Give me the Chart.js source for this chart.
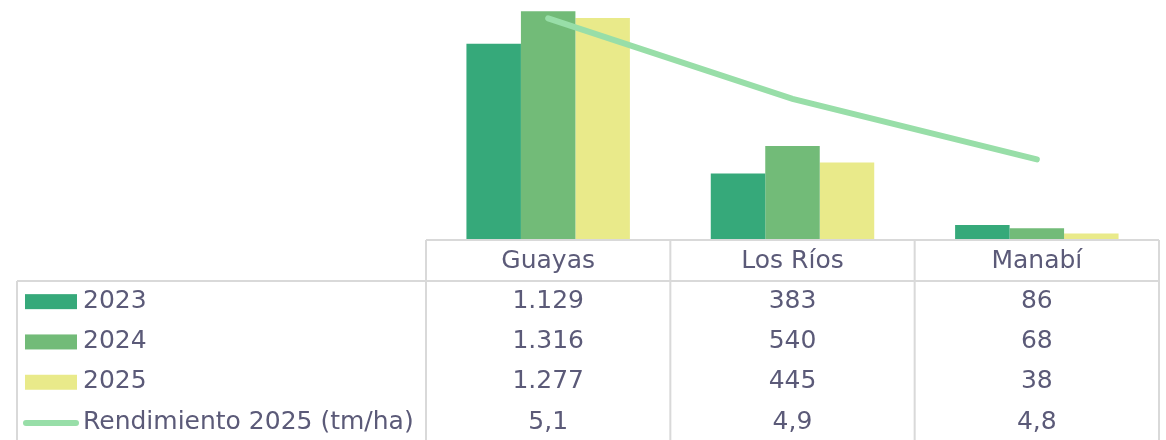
<!DOCTYPE html>
<html>
<head>
<meta charset="utf-8">
<script src="https://cdn.jsdelivr.net/npm/chart.js@4.4.1/dist/chart.umd.min.js"></script>
<style>
  body { margin: 0; background: #fff; }
  #wrap { width: 1166px; height: 440px; }
</style>
</head>
<body>
<div id="wrap"><canvas id="myChart" width="1166" height="440"></canvas></div>
<script>
var provincias = ["Guayas", "Los Ríos", "Manabí"];
var serieNames = ["2023", "2024", "2025"];
var prod2023 = [1129, 383, 86];
var prod2024 = [1316, 540, 68];
var prod2025 = [1277, 445, 38];
var lineName = "Rendimiento 2025 (tm/ha)";
var rendimiento = [5.145, 4.947, 4.798];

var barColors = ["#36a97a", "#72bb78", "#e9ea8a"];
var lineColor = "#98dea8";
var textColor = "#5b5a78";
var gridColor = "#d9d9d9";
var tableFont = "25px 'DejaVu Sans'";

function fmtMiles(v) {
  return String(v).replace(/\B(?=(\d{3})+(?!\d))/g, ".");
}
function fmtDec(v) {
  return v.toFixed(1).replace(".", ",");
}

// data table under the plot, built from the same arrays
var tablePlugin = {
  id: "dataTable",
  afterDraw: function(chart) {
    var ctx = chart.ctx;
    var area = chart.chartArea;
    var xs = chart.scales.x;
    var n = provincias.length;
    var colW = (area.right - area.left) / n;
    var top = area.bottom;
    var headH = 41;
    var rowH = 40.3;
    var tableLeft = 17;
    var bottom = 442;

    ctx.save();
    ctx.strokeStyle = gridColor;
    ctx.lineWidth = 2;
    ctx.beginPath();
    // header box
    ctx.moveTo(area.left, top);
    ctx.lineTo(area.right, top);
    ctx.moveTo(tableLeft, top + headH);
    ctx.lineTo(area.right, top + headH);
    ctx.moveTo(tableLeft, top + headH);
    ctx.lineTo(tableLeft, bottom);
    for (var i = 0; i <= n; i++) {
      var x = area.left + i * colW;
      ctx.moveTo(x, top);
      ctx.lineTo(x, bottom);
    }
    ctx.stroke();

    ctx.font = tableFont;
    ctx.fillStyle = textColor;
    ctx.textAlign = "center";
    ctx.textBaseline = "middle";
    for (var c = 0; c < n; c++) {
      ctx.fillText(provincias[c], xs.getPixelForValue(c), top + headH / 2 + 1);
    }

    chart.data.datasets.forEach(function(ds, k) {
      var cy = top + headH + rowH * k + rowH / 2;
      // legend key
      if (ds.type === "line") {
        ctx.strokeStyle = ds.borderColor;
        ctx.lineWidth = 6;
        ctx.lineCap = "round";
        ctx.beginPath();
        ctx.moveTo(26, cy + 1);
        ctx.lineTo(76, cy + 1);
        ctx.stroke();
      } else {
        ctx.fillStyle = ds.backgroundColor;
        ctx.fillRect(25, cy - 7, 52, 15);
      }
      ctx.fillStyle = textColor;
      ctx.textAlign = "left";
      ctx.fillText(ds.label, 83, cy);
      ctx.textAlign = "center";
      for (var c = 0; c < n; c++) {
        var v = ds.data[c];
        var s = ds.type === "line" ? fmtDec(v) : fmtMiles(v);
        ctx.fillText(s, xs.getPixelForValue(c), cy);
      }
    });
    ctx.restore();
  }
};

new Chart("myChart", {
  type: "bar",
  data: {
    labels: provincias,
    datasets: [{
      label: serieNames[0],
      data: prod2023,
      backgroundColor: barColors[0],
      order: 1
    }, {
      label: serieNames[1],
      data: prod2024,
      backgroundColor: barColors[1],
      order: 1
    }, {
      label: serieNames[2],
      data: prod2025,
      backgroundColor: barColors[2],
      order: 1
    }, {
      label: lineName,
      type: "line",
      data: rendimiento,
      yAxisID: "y2",
      borderColor: lineColor,
      borderWidth: 6,
      borderCapStyle: "round",
      pointRadius: 0,
      order: 0
    }]
  },
  options: {
    responsive: false,
    animation: false,
    layout: { padding: { left: 426, right: 7, top: 0, bottom: 200 } },
    datasets: { bar: { categoryPercentage: 0.669, barPercentage: 1 } },
    plugins: { legend: { display: false }, tooltip: { enabled: false } },
    scales: {
      x: { display: false, offset: true },
      y: { display: false, min: 0, max: 1380 },
      y2: { display: false, min: 4.6, max: 5.19, position: "right" }
    }
  },
  plugins: [tablePlugin]
});
</script>
</body>
</html>
